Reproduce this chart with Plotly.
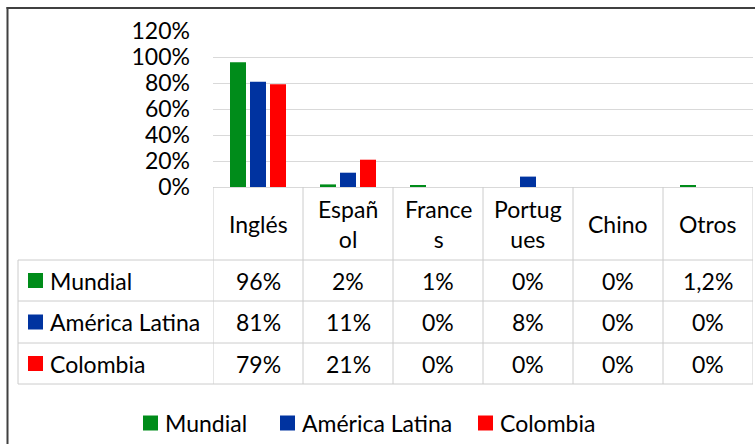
import plotly.graph_objects as go

categories = ["Inglés", "Español", "Frances", "Portugues", "Chino", "Otros"]
header_labels = ["Inglés", "Españ<br>ol", "France<br>s", "Portug<br>ues", "Chino", "Otros"]
series_names = ["Mundial", "América Latina", "Colombia"]
mundial = [0.96, 0.02, 0.01, 0.0, 0.0, 0.012]
america_latina = [0.81, 0.11, 0.0, 0.08, 0.0, 0.0]
colombia = [0.79, 0.21, 0.0, 0.0, 0.0, 0.0]
series_values = [mundial, america_latina, colombia]
colors = ["#008c1a", "#0033a0", "#ff0000"]

W, H = 755, 444
ML, MR, MT, MB = 213, 2, 31, 0
PH = H - MT - MB
PW = W - ML - MR
FONT = "Lato"
FS = 23
GRID = "#d9d9d9"
TLINE = "#cccccc"


def py(y):
    return (H - MB - y) / PH


def px(x):
    return (x - ML) / PW


def fmt(v):
    p = round(v * 100, 1)
    if abs(p - round(p)) < 1e-9:
        return f"{int(round(p))}%"
    return f"{p:.1f}%".replace(".", ",")


fig = go.Figure()
for name, vals, col in zip(series_names, series_values, colors):
    fig.add_trace(go.Bar(x=categories, y=vals, name=name, marker_color=col,
                         marker_line_width=0, showlegend=False))

axis_y = 187
header_bottom = 260
row_lines = [260, 301, 343, 384]
table_left = 18

shapes = []
n = len(categories)
for i in range(n + 1):
    shapes.append(dict(type="line", xref="x", yref="paper", x0=i - 0.5, x1=i - 0.5,
                       y0=py(axis_y), y1=py(row_lines[-1]),
                       line=dict(color=TLINE, width=1)))
shapes.append(dict(type="line", xref="paper", yref="paper", x0=px(table_left), x1=px(table_left),
                   y0=py(header_bottom), y1=py(row_lines[-1]), line=dict(color=TLINE, width=1)))
for yl in row_lines:
    shapes.append(dict(type="line", xref="paper", yref="paper", x0=px(table_left), x1=1,
                       y0=py(yl), y1=py(yl), line=dict(color=TLINE, width=1)))
# outer frame
shapes.append(dict(type="line", xref="paper", yref="paper", x0=px(7.5), x1=px(7.5),
                   y0=py(7), y1=py(H + 5), line=dict(color="#404040", width=2)))
shapes.append(dict(type="line", xref="paper", yref="paper", x0=px(6.5), x1=px(W + 5),
                   y0=py(8), y1=py(8), line=dict(color="#404040", width=2)))

annotations = []
hc = (axis_y + header_bottom) / 2
for cat, lab in zip(categories, header_labels):
    annotations.append(dict(x=cat, xref="x", y=py(hc), yref="paper", text=lab,
                            showarrow=False, font=dict(family=FONT, size=FS, color="#000"),
                            xanchor="center", yanchor="middle"))
for r, (name, vals, col) in enumerate(zip(series_names, series_values, colors)):
    top, bot = row_lines[r], row_lines[r + 1]
    yc = (top + bot) / 2
    shapes.append(dict(type="rect", xref="paper", yref="paper", x0=px(28), x1=px(43),
                       y0=py(yc - 7.5), y1=py(yc + 7.5), fillcolor=col, line=dict(width=0)))
    annotations.append(dict(x=px(48), xref="paper", y=py(yc), yref="paper", text=name,
                            showarrow=False, font=dict(family=FONT, size=FS, color="#000"),
                            xanchor="left", yanchor="middle"))
    for cat, v in zip(categories, vals):
        annotations.append(dict(x=cat, xref="x", y=py(yc), yref="paper", text=fmt(v),
                                showarrow=False, font=dict(family=FONT, size=FS, color="#000"),
                                xanchor="center", yanchor="middle"))

# bottom legend
legend_y = 423
legend_sq_x = [143, 280, 478]
for name, col, sx in zip(series_names, colors, legend_sq_x):
    shapes.append(dict(type="rect", xref="paper", yref="paper", x0=px(sx), x1=px(sx + 15),
                       y0=py(legend_y - 7.5), y1=py(legend_y + 7.5), fillcolor=col,
                       line=dict(width=0)))
    annotations.append(dict(x=px(sx + 20), xref="paper", y=py(legend_y), yref="paper",
                            text=name, showarrow=False,
                            font=dict(family=FONT, size=FS, color="#000"),
                            xanchor="left", yanchor="middle"))

fig.update_layout(
    width=W, height=H, autosize=False,
    margin=dict(l=ML, r=MR, t=MT, b=MB, pad=0, autoexpand=False),
    paper_bgcolor="white", plot_bgcolor="white",
    barmode="group", bargap=1 / 3, bargroupgap=0.2,
    font=dict(family=FONT, size=FS, color="#000"),
    shapes=shapes, annotations=annotations,
    showlegend=False,
    xaxis=dict(showticklabels=False, showgrid=False, showline=True, linecolor=GRID,
               linewidth=1, ticks="", zeroline=False, range=[-0.5, n - 0.5],
               automargin=False),
    yaxis=dict(domain=[py(axis_y), 1], range=[0, 1.2], dtick=0.2, tickformat=".0%",
               showgrid=True, gridcolor=GRID, gridwidth=1, zeroline=False, showline=False,
               ticks="", ticklabelstandoff=22, automargin=False,
               tickfont=dict(family=FONT, size=FS, color="#000")),
)

fig.write_html("out.html", config={"displayModeBar": False},
               post_script="document.body.style.margin='0';document.body.style.overflow='hidden';")
